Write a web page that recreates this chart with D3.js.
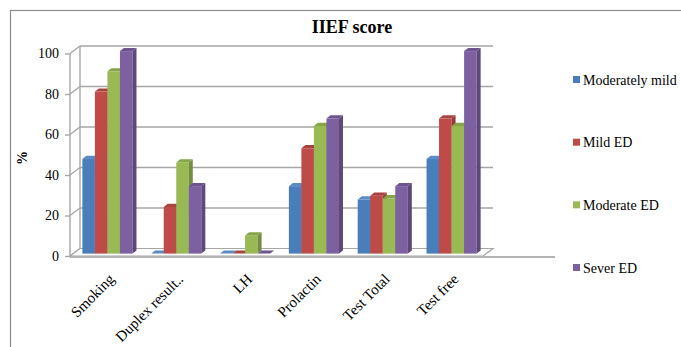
<!DOCTYPE html>
<html>
<head>
<meta charset="utf-8">
<script src="https://cdn.jsdelivr.net/npm/d3@7"></script>
<style>
  html, body { margin: 0; padding: 0; background: #fff; }
  svg { display: block; }
  svg text { font-family: "Liberation Serif", "Times New Roman", serif; }
</style>
</head>
<body>
<svg id="chart" width="681" height="347"></svg>
<script>
// IIEF score: percentage of patients per ED severity group
const categories = ["Smoking", "Duplex result..", "LH", "Prolactin", "Test Total", "Test free"];
const seriesNames = ["Moderately mild", "Mild ED", "Moderate ED", "Sever ED"];
const moderatelyMild = [46.7, 0, 0, 33.3, 26.7, 46.7];
const mildED = [80, 23, 0, 52, 28.6, 66.7];
const moderateED = [90, 45, 9, 63, 27.3, 63];
const severED = [100, 33.3, 0, 66.7, 33.3, 100];
const yTicks = [0, 20, 40, 60, 80, 100];

const seriesValues = [moderatelyMild, mildED, moderateED, severED];
const frontColors = ["#4a7ebb", "#be4b48", "#98b954", "#7d60a0"];
const sideColors = ["#3a6496", "#953a38", "#748d40", "#5e4779"];
const topColors = ["#5b8bc4", "#a94340", "#86a548", "#6d5390"];

const FONT = "Liberation Serif, Times New Roman, serif";
const svg = d3.select("#chart");
const grid = "#a6a6a6";

// outer frame
svg.append("rect").attr("x", 10.5).attr("y", 10.5).attr("width", 720).attr("height", 400)
  .attr("fill", "none").attr("stroke", "#8c8c8c").attr("stroke-width", 1.2);

// title
svg.append("text").attr("x", 352).attr("y", 33).attr("text-anchor", "middle")
  .attr("font-family", FONT).attr("font-size", 18).attr("font-weight", "bold").attr("fill", "#000").text("IIEF score");

// scales (front plane of the 3-D box)
const y = d3.scaleLinear().domain([0, 100]).range([256, 53.5]);
const x = d3.scaleBand().domain(categories).range([70, 483]).padding(0);
const depth = { dx: 10, dy: -7.5 };          // wall depth
const barOff = { dx: 3, dy: -2.4 };          // bar front plane offset
const barDepth = { dx: 4, dy: -3.2 };        // bar thickness
const groupW = x.bandwidth() * 0.728;
const xs = d3.scaleBand().domain(seriesNames).range([0, groupW]).padding(0);

const x0 = x.range()[0], x1 = x.range()[1];

// back wall gridlines and side wall diagonals
yTicks.forEach(t => {
  const yy = y(t);
  if (t > 0) {
    svg.append("line").attr("x1", x0 + depth.dx).attr("x2", x1 + depth.dx)
      .attr("y1", yy + depth.dy).attr("y2", yy + depth.dy)
      .attr("stroke", grid).attr("stroke-width", 1.4);
  }
  svg.append("line").attr("x1", x0).attr("y1", yy).attr("x2", x0 + depth.dx).attr("y2", yy + depth.dy)
    .attr("stroke", grid).attr("stroke-width", 1.4);
});
// back wall left edge
svg.append("line").attr("x1", x0 + depth.dx).attr("x2", x0 + depth.dx)
  .attr("y1", y(100) + depth.dy).attr("y2", y(0) + depth.dy)
  .attr("stroke", grid).attr("stroke-width", 1.4);

// floor
svg.append("polygon")
  .attr("points", [[x0, y(0)], [x1, y(0)], [x1 + depth.dx, y(0) + depth.dy], [x0 + depth.dx, y(0) + depth.dy]].map(p => p.join(",")).join(" "))
  .attr("fill", "#fff").attr("stroke", grid).attr("stroke-width", 1.2);

// vertical axis with ticks and labels
svg.append("line").attr("x1", x0).attr("x2", x0).attr("y1", y(100)).attr("y2", y(0) + 1)
  .attr("stroke", grid).attr("stroke-width", 1.4);
const yAxis = d3.axisLeft(y).tickValues(yTicks).tickSize(5).tickPadding(6);
const gy = svg.append("g").attr("transform", `translate(${x0},0)`).call(yAxis)
  .attr("font-family", FONT).attr("font-size", 14);
gy.select(".domain").remove();
gy.selectAll(".tick line").attr("stroke", grid).attr("stroke-width", 1.4);
gy.selectAll(".tick text").attr("font-family", FONT).attr("font-size", 14).attr("fill", "#000");

// axis title
svg.append("text").attr("transform", "translate(27,158) rotate(-90)").attr("text-anchor", "middle")
  .attr("font-family", FONT).attr("font-size", 14).attr("font-weight", "bold").attr("fill", "#000").text("%");

// bars
categories.forEach((c, ci) => {
  seriesNames.forEach((s, si) => {
    const v = seriesValues[si][ci];
    const bx = x(c) + (x.bandwidth() - groupW) / 2 + xs(s) + barOff.dx;
    const bw = xs.bandwidth();
    const yTop = y(v) + barOff.dy;
    const yBot = y(0) + barOff.dy;
    const g = svg.append("g");
    g.append("rect").attr("x", bx).attr("y", yTop).attr("width", bw).attr("height", Math.max(0, yBot - yTop))
      .attr("fill", frontColors[si]);
    g.append("polygon").attr("points", [[bx + bw, yTop], [bx + bw + barDepth.dx, yTop + barDepth.dy],
      [bx + bw + barDepth.dx, yBot + barDepth.dy], [bx + bw, yBot]].map(p => p.join(",")).join(" "))
      .attr("fill", sideColors[si]);
    g.append("polygon").attr("points", [[bx, yTop], [bx + barDepth.dx, yTop + barDepth.dy],
      [bx + bw + barDepth.dx, yTop + barDepth.dy], [bx + bw, yTop]].map(p => p.join(",")).join(" "))
      .attr("fill", topColors[si]);
  });
});

// horizontal axis line
svg.append("line").attr("x1", x0).attr("x2", 555).attr("y1", y(0) + 1).attr("y2", y(0) + 1)
  .attr("stroke", "#b3b3b3").attr("stroke-width", 2);

// category labels
categories.forEach(c => {
  const cx = x(c) + x.bandwidth() / 2 + 11;
  svg.append("text").attr("transform", `translate(${cx},280) rotate(-45)`)
    .attr("text-anchor", "end").attr("font-family", FONT).attr("font-size", 15).attr("fill", "#000").text(c);
});

// legend
const legY = d3.scalePoint().domain(seriesNames).range([80, 268]);
seriesNames.forEach((s, si) => {
  svg.append("rect").attr("x", 573).attr("y", legY(s) - 4).attr("width", 7).attr("height", 7)
    .attr("fill", frontColors[si]);
  svg.append("text").attr("x", 583).attr("y", legY(s) + 4.5).attr("font-family", FONT).attr("font-size", 14)
    .attr("fill", "#000").text(s);
});
</script>
</body>
</html>
